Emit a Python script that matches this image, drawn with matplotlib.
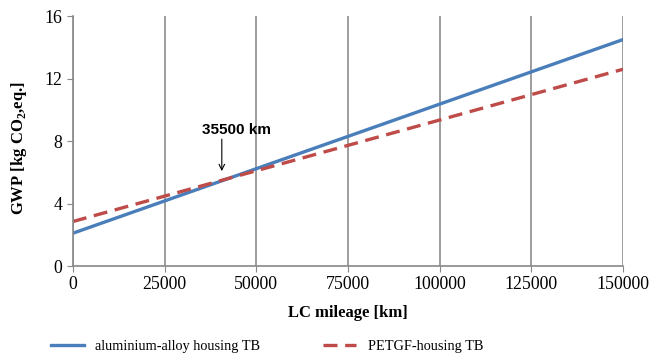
import numpy as np
import matplotlib.pyplot as plt

# LC mileage [km] and GWP [kg CO2 eq.]
mileage = [0, 150000]
gwp_alu = [2.1, 14.5]
gwp_petgf = [2.85, 12.6]
x_ticks = [0, 25000, 50000, 75000, 100000, 125000, 150000]
y_ticks = [0, 4, 8, 12, 16]

plt.rcParams['font.family'] = ['Liberation Serif', 'DejaVu Serif']
plt.rcParams['mathtext.fontset'] = 'custom'
plt.rcParams['mathtext.rm'] = 'Liberation Serif:bold'
plt.rcParams['mathtext.bf'] = 'Liberation Serif:bold'

fig = plt.figure(figsize=(6.51, 3.59), dpi=100)
ax = fig.add_axes([0.112, 0.259, 0.845, 0.696])

ax.plot(mileage, gwp_alu, color='#4A7EBB', lw=2.4, label='aluminium-alloy housing TB')
ax.plot(mileage, gwp_petgf, color='#BE4B48', lw=2.4, dashes=(4.2, 2.3),
        label='PETGF-housing TB')

ax.set_xlim(0, 150000)
ax.set_ylim(0, 16)
ax.set_xticks(x_ticks)
ax.set_yticks(y_ticks)
ax.tick_params(labelsize=12.8, color='#888888', length=4)
ax.grid(axis='x', color='#8c8c8c', lw=1.2)
ax.set_axisbelow(True)
for s in ['top', 'right']:
    ax.spines[s].set_visible(False)
for s in ['left', 'bottom']:
    ax.spines[s].set_color('#888888')
    ax.spines[s].set_linewidth(1.2)

ax.set_xlabel('LC mileage [km]', fontsize=12, fontweight='bold', labelpad=8)
ax.set_ylabel('GWP [kg CO$_{2}$,eq.]', fontsize=12, fontweight='bold')
ax.yaxis.set_label_coords(-0.079, 0.47)

# arrow and label for the break-even point
ax.annotate('', xy=(40600, 5.9), xytext=(40600, 8.3),
            arrowprops=dict(arrowstyle='->', color='black', lw=0.8))
ax.text(44700, 8.7, '35500 km', ha='center', va='center', fontsize=11,
        fontweight='bold', family='Liberation Sans')

fig.legend(loc='center', bbox_to_anchor=(0.41, 0.036), ncol=2, frameon=False,
           fontsize=10.3, handlelength=2.3, columnspacing=4.4)

fig.savefig('out.png', dpi=100)
